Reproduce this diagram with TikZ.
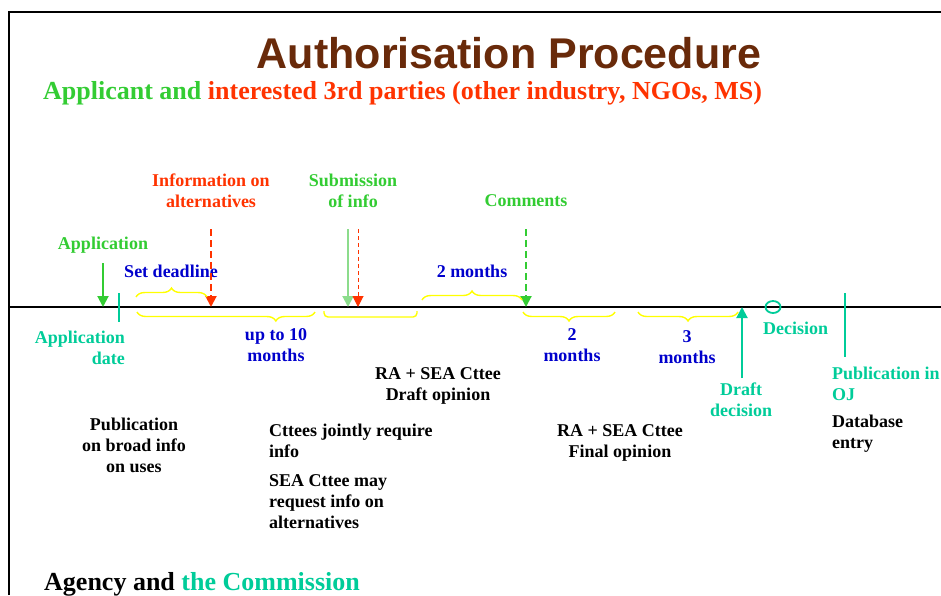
\documentclass[tikz,border=0pt]{standalone}
\usepackage{fontspec}
\setmainfont{Liberation Serif}
\newfontfamily\titlefont{Liberation Sans}
\usetikzlibrary{arrows.meta,decorations.pathreplacing}
\definecolor{brn}{RGB}{105,42,10}
\definecolor{grn}{RGB}{51,204,51}
\definecolor{lgrn}{RGB}{140,220,140}
\definecolor{rd}{RGB}{255,51,0}
\definecolor{blu}{RGB}{0,0,204}
\definecolor{tl}{RGB}{0,204,153}
\definecolor{ylw}{RGB}{255,255,0}
\begin{document}
\begin{tikzpicture}[x=1pt,y=-1pt,
    lbl/.style={font=\bfseries\fontsize{18}{21}\selectfont, inner sep=0pt, align=center, anchor=base},
    lblw/.style={lbl, align=left, anchor=base west},
    lble/.style={lbl, align=right, anchor=base east},
    head/.style={font=\bfseries\fontsize{26}{30}\selectfont, inner sep=0pt, anchor=base west},
    tip/.style={-{Triangle[length=11pt,width=11pt]}},
    ybrace/.style={draw=ylw, line width=1.4pt, decorate, decoration={brace, amplitude=9pt}}]
  \useasboundingbox (0,0) rectangle (941,595);
  % frame and time line
  \draw[line width=2.5pt] (9,595) -- (9,12) -- (941,12);
  \draw[line width=2.5pt] (10,307) coordinate (tl0) -- (941,307) coordinate (tl1);
  % headings
  \draw
    (509,68) node[inner sep=0pt, anchor=base, text=brn, font=\titlefont\bfseries\fontsize{43}{48}\selectfont] (title){Authorisation Procedure}
    (43,99) node[head] (parties){\textcolor{grn}{Applicant and} \textcolor{rd}{interested 3rd parties (other industry, NGOs, MS)}}
    (44,590) node[head] (agency){Agency and \textcolor{tl}{the Commission}};
  % labels above the line (y = baseline of last line)
  \draw
    (211,207) node[lbl, text=rd] (infoalt){Information on\\alternatives}
    (353,207) node[lbl, text=grn] (subinfo){Submission\\of info}
    (526,206) node[lbl, text=grn] (comments){Comments}
    (103,249) node[lbl, text=grn] (appl){Application}
    (171,277) node[lbl, text=blu] (deadline){Set deadline}
    (472,277) node[lbl, text=blu] (twoa){2 months};
  % labels below the line
  \draw
    (125,364) node[lble, text=tl] (appdate){Application\\date}
    (276,361) node[lbl, text=blu] (upto){up to 10\\months}
    (572,361) node[lbl, text=blu] (twob){2\\months}
    (687,363) node[lbl, text=blu] (three){3\\months}
    (763,334) node[lblw, text=tl] (decision){Decision}
    (438,400) node[lbl] (draftop){RA + SEA Cttee\\Draft opinion}
    (832,400) node[lblw, text=tl] (pubOJ){Publication in\\OJ}
    (741,416) node[lbl, text=tl] (draftdec){Draft\\decision}
    (134,472) node[lbl] (pubbroad){Publication\\on broad info\\on uses}
    (269,457) node[lblw] (jointly){Cttees jointly require\\info}
    (269,528) node[lblw] (seamay){SEA Cttee may\\request info on\\alternatives}
    (620,457) node[lbl] (finalop){RA + SEA Cttee\\Final opinion}
    (832,448) node[lblw] (database){Database\\entry};
  % arrow ends
  \coordinate (appTop) at (103,263);
  \coordinate (appHit) at (103,307);
  \coordinate (altTop) at (211,229);
  \coordinate (altHit) at (211,307);
  \coordinate (subTop) at (348,229);
  \coordinate (subHit) at (348,307);
  \coordinate (sub3Top) at (358,229);
  \coordinate (sub3Hit) at (358,307);
  \coordinate (comTop) at (526,229);
  \coordinate (comHit) at (526,307);
  \coordinate (decFoot) at (742,378);
  \coordinate (decHit) at (742,307);
  \begin{scope}[line width=2pt]
    \draw[tip, grn] (appTop) to (appHit);
    \draw[tip, rd, dash pattern=on 7pt off 4pt] (altTop) to (altHit);
    \draw[tip, lgrn] (subTop) to (subHit);
    \draw[tip, rd, line width=1pt, dash pattern=on 4pt off 3pt] (sub3Top) to (sub3Hit);
    \draw[tip, grn, dash pattern=on 7pt off 4pt] (comTop) to (comHit);
    \draw[tip, tl] (decFoot) to (decHit);
  \end{scope}
  % ticks and decision mark
  \draw[tl, line width=2pt] (119,293) coordinate (adTop) -- (119,322) coordinate (adFoot);
  \draw[tl, line width=2pt] (845,293) coordinate (ojTop) -- (845,357) coordinate (ojFoot);
  \draw[tl, line width=1.8pt] (773,307) coordinate (decMark) circle[x radius=7.5pt, y radius=6pt];
  % braces
  \draw[ybrace] (136,297) -- (207,297);
  \draw[ybrace, decoration={mirror, aspect=0.78}] (137,312) -- (315,312);
  \draw[draw=ylw, line width=1.4pt, rounded corners=4pt] (324,311) -- (324,317) -- (417,317) -- (417,311);
  \draw[ybrace] (422,300) -- (522,300);
  \draw[ybrace, decoration={mirror}] (523,312) -- (615,312);
  \draw[ybrace, decoration={mirror}] (638,312) -- (738,312);
\end{tikzpicture}
\end{document}
